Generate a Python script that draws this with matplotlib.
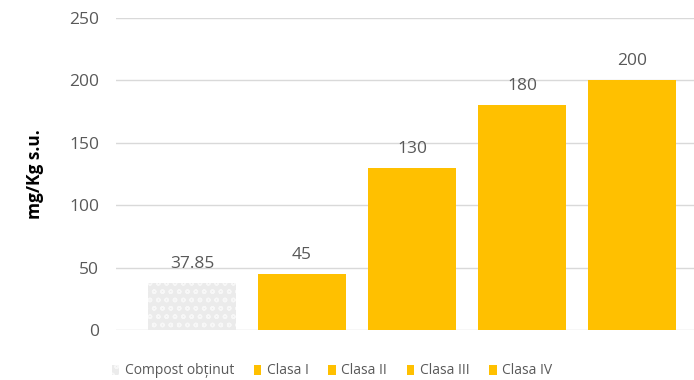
import matplotlib
matplotlib.use("Agg")
import matplotlib.pyplot as plt
from matplotlib.patches import Patch

categories = ["Compost obținut", "Clasa I", "Clasa II", "Clasa III", "Clasa IV"]
values = [37.85, 45, 130, 180, 200]
labels = ["37.85", "45", "130", "180", "200"]
yticks = [0, 50, 100, 150, 200, 250]

plt.rcParams['font.family'] = ['Open Sans', 'DejaVu Sans']
gray = '#595959'
yellow = '#FFC000'

fig = plt.figure(figsize=(6.94, 3.80), dpi=100)
ax = fig.add_axes([116/694, 50/380, (694-116)/694, (330-18)/380])

x = list(range(len(categories)))
for i, (xi, v) in enumerate(zip(x, values)):
    if i == 0:
        ax.bar(xi, v, width=0.8, color='#ebebeb', hatch='oo', edgecolor='#f7f7f7',
               linewidth=0, zorder=3, label=categories[i])
    else:
        ax.bar(xi, v, width=0.8, color=yellow, linewidth=0, zorder=3, label=categories[i])
    ax.annotate(labels[i], (xi, v), xytext=(0, 8), textcoords='offset points',
                ha='center', va='bottom', fontsize=12.5, color=gray)

ax.set_xlim(-0.69, 4.56)
ax.set_ylim(0, 250)
ax.set_yticks(yticks)
ax.set_xticks([])
ax.grid(axis='y', color='#d9d9d9', linewidth=1, zorder=0)
for s in ax.spines.values():
    s.set_visible(False)
ax.tick_params(axis='y', length=0, pad=12, labelsize=12.5, labelcolor=gray)
ax.set_ylabel("mg/Kg s.u.", fontsize=12.5, fontweight='bold', color='black', labelpad=18)

handles = [Patch(facecolor='#ebebeb', hatch='oo', edgecolor='#f7f7f7', linewidth=0)] + \
          [Patch(facecolor=yellow, linewidth=0) for _ in range(4)]
fig.legend(handles, categories, loc='center', bbox_to_anchor=(332/694, 1 - 371/380),
           ncol=5, frameon=False, fontsize=10, handlelength=0.55, handleheight=0.75,
           handletextpad=0.4, columnspacing=1.4, labelcolor=gray)

fig.savefig("out.png", dpi=100)
